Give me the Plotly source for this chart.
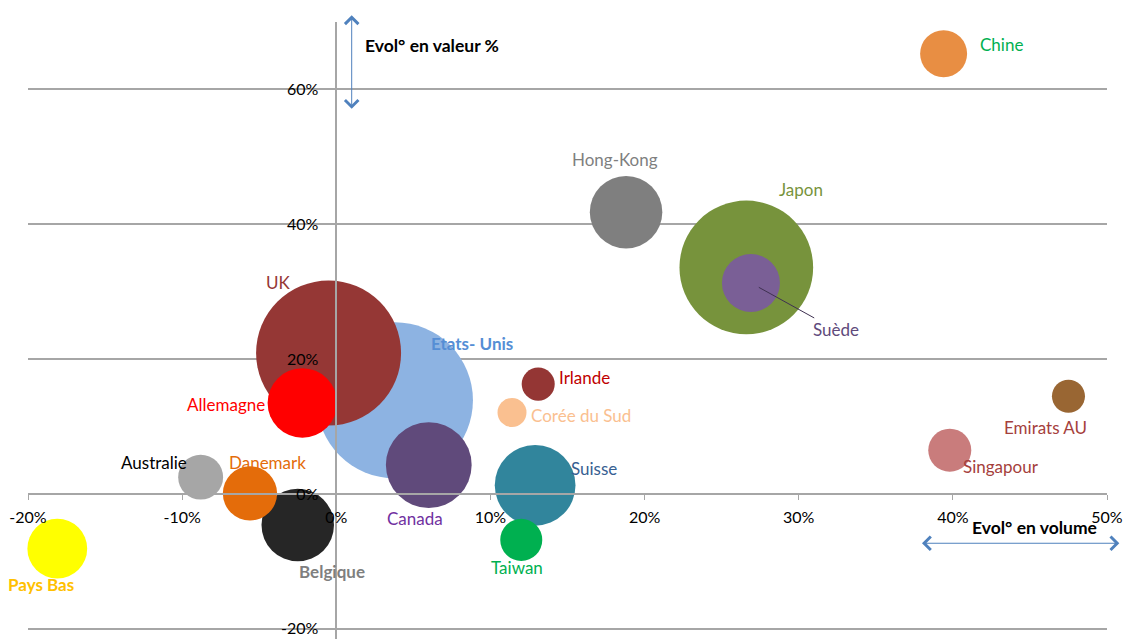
import plotly.graph_objects as go

# Evolution en volume (%), en valeur (%), poids relatif (taille des bulles)
pays = ["Etats- Unis", "UK", "Allemagne", "Canada", "Belgique", "Danemark", "Australie",
        "Pays Bas", "Suisse", "Taiwan", "Irlande", "Corée du Sud", "Japon", "Suède",
        "Hong-Kong", "Chine", "Emirats AU", "Singapour"]
evol_volume = [3.8, -0.5, -2.2, 6.0, -2.5, -5.6, -8.8,
               -18.1, 12.9, 12.0, 13.1, 11.4, 26.6, 26.9,
               18.8, 39.4, 47.5, 39.8]
evol_valeur = [13.9, 20.9, 13.5, 4.3, -4.6, 0.1, 2.5,
               -8.1, 1.3, -6.8, 16.3, 12.1, 33.6, 31.3,
               41.8, 65.3, 14.5, 6.5]
poids = [116, 100, 23, 35, 25, 14, 9.6,
         17, 31, 8.4, 5.2, 4.0, 85, 16,
         25, 10.5, 5.2, 8.8]

x_ticks = [-20, -10, 0, 10, 20, 30, 40, 50]
x_tick_labels = ["-20%", "-10%", "0%", "10%", "20%", "30%", "40%", "50%"]
y_ticks = [-20, 0, 20, 40, 60]
y_tick_labels = ["-20%", "0%", "20%", "40%", "60%"]

# style: bubble colour, label colour, bold, label offset (px)
STYLE = {
    "Etats- Unis": ("#8DB3E2", "#558ED5", True, (77, 57)),
    "UK": ("#953735", "#953735", False, (-50, 71)),
    "Allemagne": ("#FF0000", "#FF0000", False, (-76, -2)),
    "Canada": ("#604A7B", "#7030A0", False, (-14, -53)),
    "Belgique": ("#262626", "#7F7F7F", True, (34, -46)),
    "Danemark": ("#E46C0A", "#E46C0A", False, (18, 31)),
    "Australie": ("#A6A6A6", "#000000", False, (-47, 15)),
    "Pays Bas": ("#FFFF00", "#FFC000", True, (-16, -36)),
    "Suisse": ("#31859C", "#376092", False, (59, 17)),
    "Taiwan": ("#00B050", "#00B050", False, (-4, -28)),
    "Irlande": ("#943634", "#C00000", False, (46, 7)),
    "Corée du Sud": ("#FAC090", "#FAC090", False, (69, -3)),
    "Japon": ("#77933C", "#77933C", False, (55, 78)),
    "Suède": ("#7A5F96", "#604A7B", False, None),
    "Hong-Kong": ("#7F7F7F", "#7F7F7F", False, (-11, 53)),
    "Chine": ("#E88E43", "#00B050", False, (58, 9)),
    "Emirats AU": ("#996633", "#A5403C", False, (-23, -31)),
    "Singapour": ("#C97C7C", "#A5403C", False, (51, -16)),
}

FONT = "Lato, 'Open Sans', sans-serif"
GRID = "#A6A6A6"
ARROW = "#4F81BD"

fig = go.Figure()

fig.add_trace(go.Scatter(
    x=evol_volume,
    y=evol_valeur,
    mode="markers",
    marker=dict(
        size=poids,
        sizemode="area",
        sizeref=2 * 100 / (145 ** 2),
        color=[STYLE[p][0] for p in pays],
        opacity=1,
        line=dict(width=0),
    ),
    text=pays,
    hovertemplate="%{text}<br>Volume: %{x}%<br>Valeur: %{y}%<extra></extra>",
    cliponaxis=False,
))

annotations = []
for p, xv, yv in zip(pays, evol_volume, evol_valeur):
    _, tcol, bold, off = STYLE[p]
    label = f"<b>{p}</b>" if bold else p
    if off is None:
        # Suède: label with a leader line
        annotations.append(dict(
            x=xv, y=yv, xref="x", yref="y", text=label,
            showarrow=True, arrowhead=0, arrowwidth=1, arrowcolor="#3F3151",
            ax=85, ay=47, standoff=9,
            font=dict(family=FONT, size=17, color=tcol),
        ))
    else:
        annotations.append(dict(
            x=xv, y=yv, xref="x", yref="y", text=label, showarrow=False,
            xshift=off[0], yshift=off[1],
            font=dict(family=FONT, size=17, color=tcol),
        ))

# axis titles
annotations.append(dict(
    x=1.75, y=66.5, xref="x", yref="y", text="<b>Evol° en valeur %</b>",
    showarrow=False, xanchor="left", font=dict(family=FONT, size=17.5, color="black"),
))
annotations.append(dict(
    x=45.3, y=-4.9, xref="x", yref="y", text="<b>Evol° en volume</b>",
    showarrow=False, font=dict(family=FONT, size=17.5, color="black"),
))

# double-headed arrows
annotations.append(dict(
    x=1.0, y=71.0, ax=1.0, ay=56.9, xref="x", yref="y", axref="x", ayref="y",
    text="", showarrow=True, arrowside="end+start", arrowhead=4, arrowsize=2.6,
    arrowwidth=1, arrowcolor=ARROW,
))
annotations.append(dict(
    x=50.8, y=-7.3, ax=37.9, ay=-7.3, xref="x", yref="y", axref="x", ayref="y",
    text="", showarrow=True, arrowside="end+start", arrowhead=4, arrowsize=2.6,
    arrowwidth=1, arrowcolor=ARROW,
))

fig.update_layout(
    width=1124,
    height=639,
    margin=dict(l=28, r=17, t=22, b=0, autoexpand=False),
    paper_bgcolor="white",
    plot_bgcolor="white",
    showlegend=False,
    font=dict(family=FONT, size=14, color="#000000"),
    annotations=annotations,
    xaxis=dict(
        range=[-20, 50],
        tickvals=x_ticks,
        ticktext=x_tick_labels,
        showgrid=False,
        zeroline=False,
        showline=True,
        linecolor=GRID,
        linewidth=1.5,
        ticks="outside",
        ticklen=5,
        tickcolor=GRID,
        anchor="free",
        position=21.5 / 91.5,
        ticklabelstandoff=4,
        automargin=False,
        tickfont=dict(family=FONT, size=16, color="#000000"),
    ),
    yaxis=dict(
        range=[-21.5, 70],
        tickvals=y_ticks,
        ticktext=y_tick_labels,
        showgrid=True,
        gridcolor=GRID,
        gridwidth=1.5,
        zeroline=False,
        showline=True,
        linecolor=GRID,
        linewidth=1.5,
        ticks="",
        anchor="free",
        position=20 / 70,
        ticklabelstandoff=14,
        automargin=False,
        tickfont=dict(family=FONT, size=16, color="#000000"),
    ),
)

# the page's body has a default 8px margin; drop it so the figure fills the window
fig.write_html(
    "out.html",
    config={"displayModeBar": False},
    post_script="document.body.style.margin='0';document.body.style.overflow='hidden';",
)
